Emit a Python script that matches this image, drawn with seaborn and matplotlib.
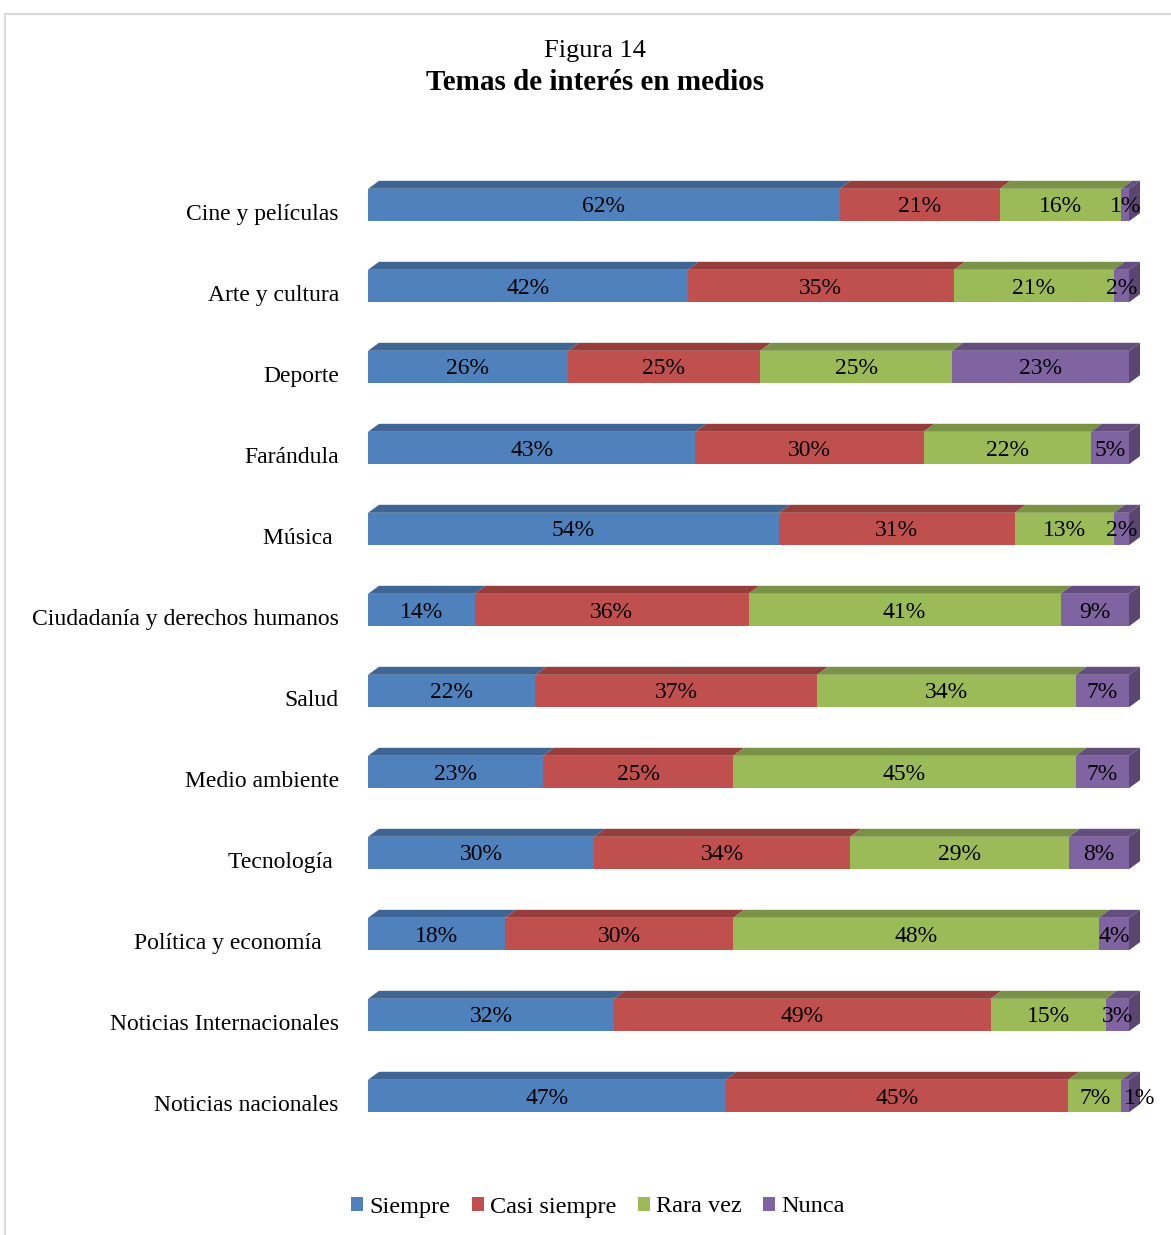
import numpy as np
import pandas as pd
import matplotlib.pyplot as plt
import seaborn as sns
from matplotlib.patches import Polygon, Patch
from matplotlib.lines import Line2D
import matplotlib.colors as mcolors
import matplotlib.transforms as mtransforms

# datos
temas = ["Cine y películas", "Arte y cultura", "Deporte", "Farándula", "Música ",
         "Ciudadanía y derechos humanos", "Salud", "Medio ambiente", "Tecnología ",
         "Política y economía   ", "Noticias Internacionales", "Noticias nacionales"]
siempre = [62, 42, 26, 43, 54, 14, 22, 23, 30, 18, 32, 47]
casi_siempre = [21, 35, 25, 30, 31, 36, 37, 25, 34, 30, 49, 45]
rara_vez = [16, 21, 25, 22, 13, 41, 34, 45, 29, 48, 15, 7]
nunca = [1, 2, 23, 5, 2, 9, 7, 7, 8, 4, 3, 1]

series = ["Siempre", "Casi siempre", "Rara vez", "Nunca"]
colores = ["#4F81BD", "#C0504D", "#9BBB59", "#8064A2"]

df = pd.DataFrame({"tema": temas, "Siempre": siempre, "Casi siempre": casi_siempre,
                   "Rara vez": rara_vez, "Nunca": nunca})
vals = df[series].to_numpy(dtype=float)
pct = vals / vals.sum(axis=1, keepdims=True) * 100  # 100% apilado
cum = np.cumsum(pct, axis=1)
left = cum - pct

sns.set_style("white")
plt.rcParams["font.family"] = ["Liberation Serif", "DejaVu Serif"]
plt.rcParams["text.color"] = "black"

W, H = 1171, 1235
fig = plt.figure(figsize=(W / 100, H / 100), dpi=100)
ax_l, ax_r = 368 / W, 1129 / W
ax_top, ax_bot = 164.5 / H, 1136.5 / H
ax = fig.add_axes([ax_l, 1 - ax_bot, ax_r - ax_l, ax_bot - ax_top])

bar_w = 0.4
# barras acumuladas de mayor a menor para simular el apilado
for j in range(len(series) - 1, -1, -1):
    d = pd.DataFrame({"tema": temas, "valor": cum[:, j]})
    sns.barplot(data=d, x="valor", y="tema", orient="h", color=colores[j],
                width=bar_w, saturation=1, ax=ax, linewidth=0)

ax.set_xlim(0, 100)
ax.set_ylim(len(temas) - 0.5, -0.5)

# profundidad 3D en unidades de datos
px_x = (ax_r - ax_l) * W / 100
px_y = (ax_bot - ax_top) * H / len(temas)
dx = 11 / px_x
dy = 8 / px_y


def oscurecer(c, f):
    r, g, b = mcolors.to_rgb(c)
    return (r * f, g * f, b * f)


# la etiqueta del 1% en la última barra queda fuera, como en el original
mover = {(len(temas) - 1, 3): 14}

for i in range(len(temas)):
    top = i - bar_w / 2
    bot = i + bar_w / 2
    for j in range(len(series)):
        x0, x1 = left[i, j], cum[i, j]
        cara = Polygon([(x0, top), (x0 + dx, top - dy), (x1 + dx, top - dy), (x1, top)],
                       closed=True, facecolor=oscurecer(colores[j], 0.78),
                       edgecolor="none", clip_on=False)
        ax.add_patch(cara)
        off = mtransforms.ScaledTranslation(mover.get((i, j), 0) / 100, -2 / 100,
                                            fig.dpi_scale_trans)
        ax.text((x0 + x1) / 2, i, f"{vals[i, j]:.0f}%", ha="center", va="center",
                fontsize=17, color="black", clip_on=False,
                transform=ax.transData + off)
    R = cum[i, -1]
    lado = Polygon([(R, top), (R + dx, top - dy), (R + dx, bot - dy), (R, bot)],
                   closed=True, facecolor=oscurecer(colores[-1], 0.7),
                   edgecolor="none", clip_on=False)
    ax.add_patch(lado)

ax.set_xlabel("")
ax.set_ylabel("")
ax.set_xticks([])
ax.tick_params(axis="y", length=0, pad=21, labelsize=17, labelcolor="black")
desplaza = mtransforms.ScaledTranslation(0, -5 / 72, fig.dpi_scale_trans)
for lab in ax.get_yticklabels():
    lab.set_transform(lab.get_transform() + desplaza)
sns.despine(ax=ax, left=True, bottom=True)

fig.text(595 / W, 1 - 51 / H, "Figura 14", ha="center", va="center", fontsize=19)
fig.text(595 / W, 1 - 83 / H, "Temas de interés en medios", ha="center", va="center",
         fontsize=21, fontweight="bold")

handles = [Patch(facecolor=c, edgecolor="none") for c in colores]
fig.legend(handles, series, loc="center", bbox_to_anchor=(598 / W, 1 - 1207 / H),
           ncol=4, frameon=False, fontsize=17.5, handlelength=0.5, handleheight=0.5,
           handletextpad=0.25, columnspacing=0.88)

# marco gris del gráfico
fig.add_artist(Line2D([5.5 / W, 1], [1 - 13.5 / H, 1 - 13.5 / H], color="#d9d9d9", lw=1.5))
fig.add_artist(Line2D([5.5 / W, 5.5 / W], [0, 1 - 13.5 / H], color="#d9d9d9", lw=1.5))

fig.savefig("out.png", dpi=100, facecolor="white")
